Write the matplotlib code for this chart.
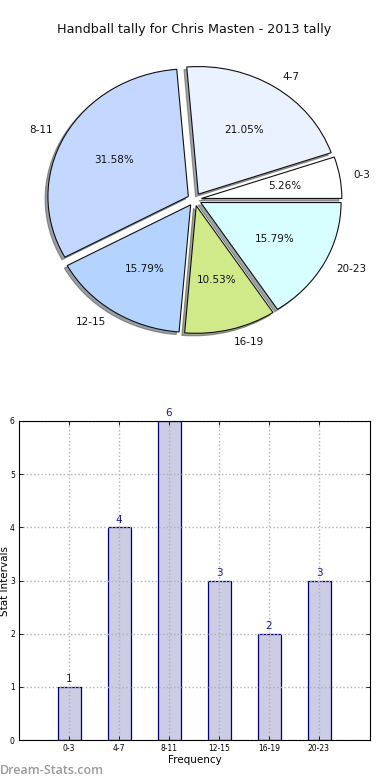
import matplotlib
matplotlib.use("Agg")
import matplotlib.pyplot as plt
from matplotlib.patches import Wedge
import numpy as np

# ---- data ----
categories = ["0-3", "4-7", "8-11", "12-15", "16-19", "20-23"]
counts = [1, 4, 6, 3, 2, 3]
pie_colors = ["#ffffff", "#eaf1ff", "#c4d8ff", "#b4d4ff", "#d0ea8a", "#d8ffff"]
title = "Handball tally for Chris Masten - 2013 tally"

W, H = 390, 780
fig = plt.figure(figsize=(W / 100, H / 100), dpi=100)
plt.rcParams['font.family'] = ['DejaVu Sans']

# ---- pie ----
axp = fig.add_axes([19 / W, 1 - 359 / H, 351 / W, 319 / H])
wedges, texts, autotexts = axp.pie(
    counts, labels=categories, colors=pie_colors, explode=[0.05] * len(counts),
    autopct="%1.2f%%", startangle=0, labeldistance=1.1, pctdistance=0.6,
    wedgeprops=dict(edgecolor="#111111", linewidth=0.8),
    textprops=dict(fontsize=7.5, color="#111111"))
for w in wedges:
    fc = np.array(matplotlib.colors.to_rgb(w.get_facecolor())) * 0.3
    cx, cy = w.center
    sh = Wedge((cx - 0.02, cy - 0.02), w.r, w.theta1, w.theta2,
               facecolor=fc, edgecolor=fc, alpha=0.5, zorder=0.9, linewidth=0.8)
    axp.add_patch(sh)
axp.set_aspect('auto')
axp.set_xlim(-1.25, 1.25)
axp.set_ylim(-1.25, 1.25)
axp.axis('off')
fig.text(194.5 / W, 1 - 30 / H, title, ha='center', va='center', fontsize=9.2, color="#111111")

# ---- bar ----
axb = fig.add_axes([19 / W, 1 - 740 / H, 351 / W, 319 / H])
x = np.arange(len(categories))
axb.bar(x, counts, width=0.46, color=(0, 0, 0.5, 0.2), edgecolor="#000080", linewidth=0.9, zorder=1)
for xi, c in zip(x, counts):
    axb.text(xi, c + 0.05, str(c), ha='center', va='bottom', fontsize=7.5, color="#1a1a99")
axb.set_xlim(-1, 6.02)
axb.set_ylim(0, 6)
axb.set_xticks(x)
axb.set_xticklabels(categories, fontsize=5.5)
axb.set_yticks(range(0, 7))
axb.set_yticklabels([str(i) for i in range(0, 7)], fontsize=5.5)
axb.tick_params(direction='in', top=True, right=True, length=3, width=0.6, pad=3)
axb.grid(True, linestyle=':', color='#b0b0b0', linewidth=1.0, zorder=2)
axb.set_axisbelow(False)
for s in axb.spines.values():
    s.set_linewidth(0.8)
    s.set_zorder(5)
axb.set_xlabel("Frequency", fontsize=7.5, labelpad=1)
axb.set_ylabel("Stat Intervals", fontsize=7.5)
axb.yaxis.set_label_coords(-0.026, 0.5)

fig.text(0, 1 - 770 / H, "Dream-Stats.com", ha='left', va='center', fontsize=9,
         color="#9a9a9a", fontweight='semibold', family=['Open Sans', 'DejaVu Sans'])

fig.savefig("out.png", dpi=100)
